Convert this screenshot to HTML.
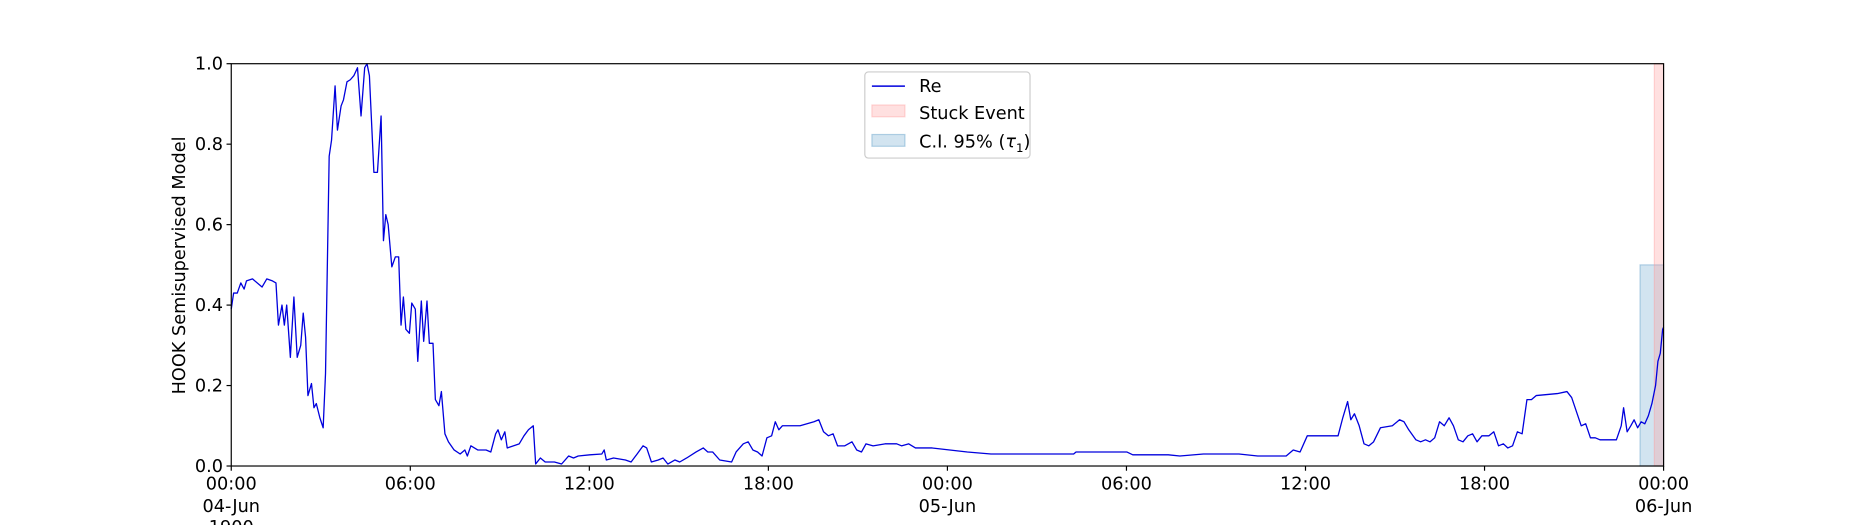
<!DOCTYPE html>
<html><head><meta charset="utf-8">
<style>
html,body{margin:0;padding:0;background:#fff;}
svg{display:block;font-family:"DejaVu Sans","Liberation Sans",sans-serif;}
</style></head>
<body>
<svg id="chart" width="1850" height="525" viewBox="0 0 1568 445" preserveAspectRatio="none"></svg>
<script>
// hours since 04-Jun 00:00
const times = [0,0.08,0.2,0.32,0.43,0.51,0.71,1.03,1.19,1.38,1.5,1.58,1.7,1.78,1.86,1.98,2.1,2.21,2.33,2.41,2.49,2.57,2.69,2.77,2.85,2.97,3.08,3.16,3.28,3.36,3.48,3.56,3.68,3.76,3.88,3.99,4.11,4.23,4.35,4.47,4.55,4.63,4.78,4.9,5.02,5.1,5.18,5.26,5.38,5.5,5.61,5.69,5.77,5.85,5.97,6.05,6.17,6.25,6.37,6.45,6.56,6.64,6.76,6.84,6.96,7.04,7.16,7.28,7.47,7.67,7.83,7.91,8.03,8.26,8.54,8.7,8.86,8.94,9.05,9.17,9.25,9.65,9.81,9.96,10.12,10.2,10.36,10.52,10.83,11.07,11.31,11.47,11.63,12.02,12.42,12.5,12.57,12.81,13.21,13.4,13.6,13.8,13.92,14.08,14.31,14.47,14.63,14.87,15.03,15.26,15.58,15.82,15.97,16.13,16.37,16.77,16.92,17.16,17.32,17.48,17.64,17.79,17.95,18.11,18.23,18.35,18.47,18.66,18.82,19.06,19.53,19.69,19.85,20.01,20.17,20.32,20.56,20.8,20.96,21.12,21.27,21.51,21.91,22.3,22.46,22.7,22.93,23.49,24.67,25.46,27.05,28.23,28.31,30.01,30.21,31.4,31.79,32.58,33.77,34.4,35.35,35.59,35.82,36.06,37.09,37.25,37.41,37.52,37.64,37.8,37.96,38.12,38.28,38.51,38.91,39.15,39.3,39.46,39.7,39.86,40.02,40.17,40.33,40.49,40.65,40.81,40.96,41.12,41.28,41.44,41.6,41.75,41.91,42.15,42.31,42.47,42.63,42.78,42.94,43.1,43.26,43.42,43.57,43.73,44.44,44.76,44.92,45.24,45.39,45.55,45.71,45.87,46.42,46.58,46.66,46.78,46.9,47.01,47.13,47.25,47.37,47.49,47.61,47.73,47.81,47.89,47.97,48];
const values = [0.39,0.43,0.43,0.455,0.44,0.46,0.465,0.445,0.465,0.46,0.455,0.35,0.40,0.35,0.40,0.27,0.42,0.27,0.30,0.38,0.32,0.175,0.205,0.145,0.155,0.12,0.095,0.23,0.77,0.81,0.945,0.835,0.895,0.91,0.955,0.96,0.97,0.99,0.87,0.99,1.0,0.97,0.73,0.73,0.87,0.56,0.625,0.6,0.495,0.52,0.52,0.35,0.42,0.34,0.33,0.405,0.39,0.26,0.41,0.31,0.41,0.305,0.305,0.165,0.15,0.185,0.08,0.06,0.04,0.03,0.04,0.025,0.05,0.04,0.04,0.035,0.08,0.09,0.065,0.085,0.045,0.055,0.075,0.09,0.1,0.005,0.02,0.01,0.01,0.005,0.025,0.02,0.025,0.028,0.03,0.04,0.015,0.02,0.015,0.01,0.03,0.05,0.045,0.01,0.015,0.02,0.005,0.015,0.01,0.02,0.035,0.045,0.035,0.035,0.015,0.01,0.035,0.055,0.06,0.04,0.035,0.025,0.07,0.075,0.11,0.09,0.1,0.1,0.1,0.1,0.11,0.115,0.085,0.075,0.08,0.05,0.05,0.06,0.04,0.035,0.055,0.05,0.055,0.055,0.05,0.055,0.045,0.045,0.035,0.03,0.03,0.03,0.035,0.035,0.028,0.028,0.025,0.03,0.03,0.025,0.025,0.04,0.035,0.075,0.075,0.12,0.16,0.115,0.13,0.1,0.055,0.05,0.06,0.095,0.1,0.115,0.11,0.09,0.065,0.06,0.065,0.06,0.07,0.11,0.1,0.12,0.1,0.065,0.06,0.075,0.08,0.06,0.075,0.075,0.085,0.05,0.055,0.045,0.05,0.085,0.08,0.165,0.165,0.175,0.18,0.185,0.17,0.1,0.105,0.07,0.07,0.065,0.065,0.1,0.145,0.085,0.1,0.115,0.095,0.11,0.105,0.125,0.155,0.2,0.26,0.28,0.34,0.345];
const stuckSpan = [47.69, 48];
const ciSpan = [47.21, 48];
const ciHeight = 0.5;
const yTicks = [0,0.2,0.4,0.6,0.8,1.0];
const yTickLabels = ["0.0","0.2","0.4","0.6","0.8","1.0"];
const xTicks = [0,6,12,18,24,30,36,42,48];
const xTickLabels = ["00:00","06:00","12:00","18:00","00:00","06:00","12:00","18:00","00:00"];
const xDateTicks = [0,24,48];
const xDateLabels = ["04-Jun","05-Jun","06-Jun"];

const L=196,R=1410,T=54,B=395;
const xs=h=>L+(h/48)*(R-L);
const ys=v=>B-v*(B-T);
const svg=document.getElementById('chart');
const NS='http://www.w3.org/2000/svg';
function mk(tag,attrs,parent){const e=document.createElementNS(NS,tag);for(const k in attrs)e.setAttribute(k,attrs[k]);(parent||svg).appendChild(e);return e;}

let ci=mk('rect',{x:xs(ciSpan[0]),y:ys(ciHeight),width:xs(ciSpan[1])-xs(ciSpan[0]),height:ys(0)-ys(ciHeight),fill:'#1f77b4','fill-opacity':0.2,stroke:'#1f77b4','stroke-opacity':0.3});


let st=mk('rect',{x:xs(stuckSpan[0]),y:T,width:xs(stuckSpan[1])-xs(stuckSpan[0]),height:B-T,fill:'#ff9999','fill-opacity':0.3,stroke:'#ff9999','stroke-opacity':0.4});



let d=times.map((t,i)=>(i?'L':'M')+xs(t).toFixed(1)+','+ys(values[i]).toFixed(1)).join('');
let ln=mk('path',{d:d,fill:'none',stroke:'#0000dd','stroke-width':1.1,'stroke-linejoin':'round'});



let fr=mk('rect',{x:L,y:T,width:R-L,height:B-T,fill:'none',stroke:'#000','stroke-width':1});



yTicks.forEach((v,i)=>{
  mk('line',{x1:L-4,x2:L,y1:ys(v),y2:ys(v),stroke:'#000'});
  let t=mk('text',{x:L-7,y:ys(v)+5,'text-anchor':'end','font-size':15});
  t.textContent=yTickLabels[i];
  
  
});
xTicks.forEach((h,i)=>{
  mk('line',{x1:xs(h),x2:xs(h),y1:B,y2:B+4,stroke:'#000'});
  let t=mk('text',{x:xs(h),y:415,'text-anchor':'middle','font-size':15});
  t.textContent=xTickLabels[i];
  
  
});
xDateTicks.forEach((h,i)=>{
  let t=mk('text',{x:xs(h),y:434,'text-anchor':'middle','font-size':15});
  t.textContent=xDateLabels[i];
  
  
});
let yr=mk('text',{x:xs(0),y:452,'text-anchor':'middle','font-size':15});
yr.textContent='1900';



let yl=mk('text',{x:0,y:0,'text-anchor':'middle','font-size':15,transform:'translate(157,225) rotate(-90)'});
yl.textContent='HOOK Semisupervised Model';



const g=mk('g',{});


mk('rect',{x:733,y:61,width:140,height:73,rx:3,fill:'#fff',stroke:'#ccc'},g);
mk('line',{x1:739,x2:767,y1:73,y2:73,stroke:'#0000dd','stroke-width':1.2},g);
mk('rect',{x:739,y:89,width:28,height:10,fill:'#ff9999','fill-opacity':0.3,stroke:'#ff9999','stroke-opacity':0.4},g);
mk('rect',{x:739,y:114,width:28,height:10,fill:'#1f77b4','fill-opacity':0.2,stroke:'#1f77b4','stroke-opacity':0.3},g);
let l1=mk('text',{x:779,y:78,'font-size':15},g);l1.textContent='Re';


let l2=mk('text',{x:779,y:101,'font-size':15},g);l2.textContent='Stuck Event';


let l3=mk('text',{x:779,y:125,'font-size':15},g);
l3.innerHTML='C.I. 95% (<tspan font-style="italic">τ</tspan><tspan font-size="10" dy="4">1</tspan><tspan dy="-4">)</tspan>';


</script>
</body></html>
